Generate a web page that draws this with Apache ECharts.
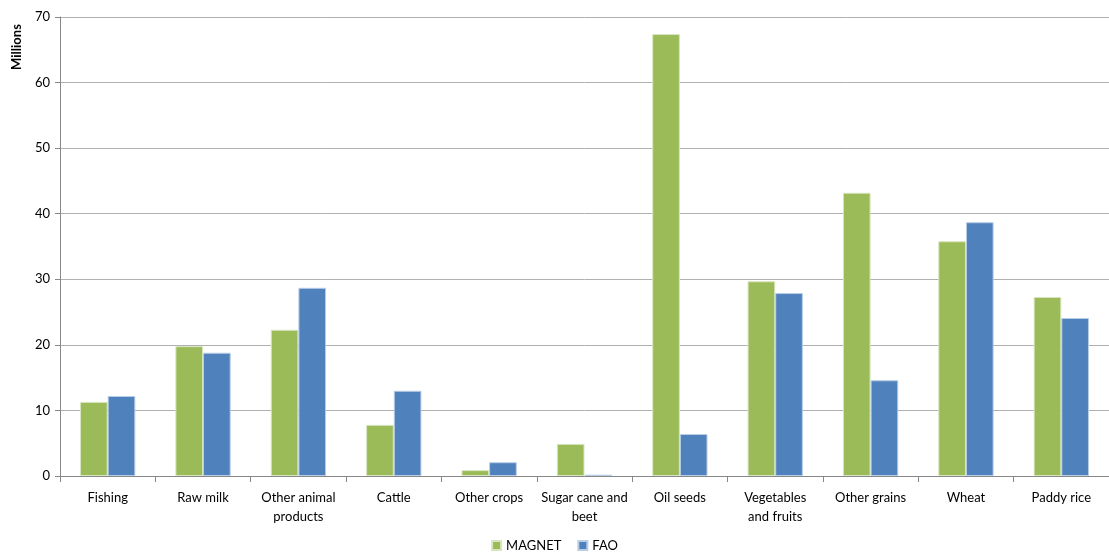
<!DOCTYPE html>
<html><head><meta charset="utf-8">
<script src="https://cdn.jsdelivr.net/npm/echarts@6/dist/echarts.min.js"></script>
<style>html,body{margin:0;padding:0;background:#fff}#c{width:1109px;height:556px}</style>
</head><body><div id="c"></div>
<script>
const categories = ["Fishing","Raw milk","Other animal\nproducts","Cattle","Other crops","Sugar cane and\nbeet","Oil seeds","Vegetables\nand fruits","Other grains","Wheat","Paddy rice"];
const magnet = [11.3, 19.8, 22.3, 7.8, 0.9, 4.9, 67.4, 29.7, 43.2, 35.8, 27.3];
const fao = [12.2, 18.8, 28.7, 13.0, 2.1, 0.2, 6.4, 27.9, 14.6, 38.7, 24.1];
const yTicks = [0, 10, 20, 30, 40, 50, 60, 70];
const yTitle = 'Millions';

const font = 'Lato, "Open Sans", sans-serif';
const chart = echarts.init(document.getElementById('c'));
chart.setOption({
  animation: false,
  textStyle: {fontFamily: font},
  grid: {left: 60, right: 0, top: 17, bottom: 80, containLabel: false},
  graphic: [{
    type: 'text', x: 17, y: 47, rotation: Math.PI / 2,
    style: {text: yTitle, fontWeight: 'bold', fontSize: 13, fill: '#000', fontFamily: font,
            align: 'center', verticalAlign: 'middle'}
  }],
  legend: {
    bottom: -1, left: 'center', itemWidth: 9, itemHeight: 9, itemGap: 16,
    icon: 'rect',
    textStyle: {fontSize: 13, color: '#000', fontFamily: font},
    data: ['MAGNET', 'FAO']
  },
  xAxis: {
    type: 'category', data: categories,
    axisLine: {lineStyle: {color: '#888'}},
    axisTick: {show: true, length: 6, lineStyle: {color: '#888'}},
    axisLabel: {color: '#000', fontSize: 13, lineHeight: 19, margin: 12, interval: 0, fontFamily: font}
  },
  yAxis: {
    type: 'value', min: 0, max: 70, interval: 10,
    axisLine: {show: true, lineStyle: {color: '#888'}},
    axisTick: {show: true, length: 5, lineStyle: {color: '#888'}},
    axisLabel: {color: '#000', fontSize: 13, margin: 10, fontFamily: font,
                formatter: v => String(yTicks[yTicks.indexOf(v)])},
    splitLine: {lineStyle: {color: '#b0b0b0'}}
  },
  series: [
    {name: 'MAGNET', type: 'bar', data: magnet, barGap: '0%', barCategoryGap: '42%',
     itemStyle: {color: '#9BBB59', borderColor: '#d8e6c0', borderWidth: 1}},
    {name: 'FAO', type: 'bar', data: fao, barGap: '0%', barCategoryGap: '42%',
     itemStyle: {color: '#4F81BD', borderColor: '#b9cde6', borderWidth: 1}}
  ]
});
</script></body></html>
